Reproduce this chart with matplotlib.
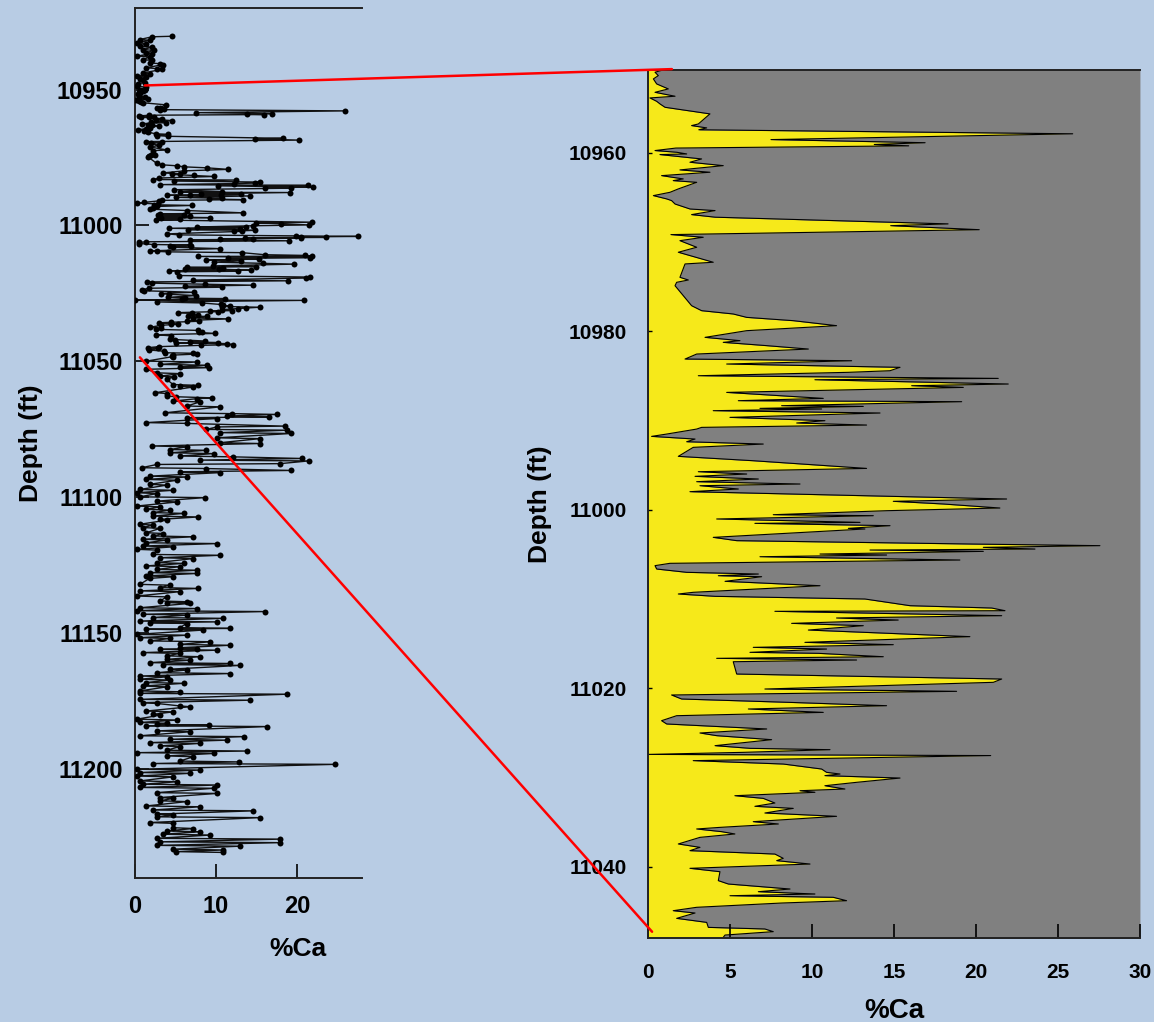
import numpy as np
import matplotlib
matplotlib.use("Agg")
import matplotlib.pyplot as plt
from matplotlib.patches import ConnectionPatch

plt.rcParams['font.family'] = ['Liberation Sans', 'DejaVu Sans']
plt.rcParams['font.weight'] = 'bold'

# %Ca log, upper part of the well (above the zoomed interval)
upper_depth = [10930.4, 10930.6, 10931.6, 10931.9, 10932.8, 10933.1, 10934.1, 10934.4,
               10935.3, 10935.6, 10936.5, 10936.8, 10937.7, 10938.0, 10939.0, 10939.3,
               10940.2, 10940.5, 10940.8, 10942.0, 10942.3, 10942.6, 10943.9, 10944.2,
               10945.1, 10945.4, 10946.3, 10946.6, 10947.5, 10947.8, 10948.8, 10949.1,
               10950.0, 10950.3]
upper_ca = [4.6, 2.1, 0.6, 1.9, 0.2, 1.4, 0.6, 2.1,
            1.0, 2.3, 1.4, 2.1, 0.2, 1.8, 1.0, 2.1,
            1.8, 3.1, 3.5, 1.4, 2.7, 3.3, 1.0, 1.8,
            0.2, 1.4, 0.6, 1.0, 1.2, 0.4, 0.2, 1.4,
            0.6, 1.2]

# zoomed interval 10950 - 11048 ft
zoom_depth = [
    10950.69, 10950.95, 10951.33, 10951.70, 10952.26, 10952.82, 10953.20, 10953.64,
    10953.83, 10954.21, 10954.50, 10954.88, 10955.62, 10956.75, 10956.93, 10957.19,
    10957.40, 10957.85, 10958.50, 10958.85, 10959.05, 10959.20, 10959.45, 10959.73,
    10959.92, 10960.11, 10960.18, 10960.67, 10961.04, 10961.42, 10961.90, 10962.16,
    10962.54, 10962.91, 10963.10, 10963.29, 10964.03, 10964.41, 10964.78, 10965.15,
    10965.34, 10965.72, 10966.28, 10966.46, 10966.91, 10967.20, 10967.95, 10968.15,
    10968.60, 10969.15, 10969.45, 10969.83, 10970.57, 10971.13, 10972.25, 10972.44,
    10973.94, 10974.24, 10974.50, 10974.88, 10977.12, 10977.68, 10978.05, 10978.43,
    10978.80, 10979.36, 10979.92, 10980.67, 10981.04, 10981.23, 10981.60, 10981.98,
    10982.54, 10983.10, 10983.29, 10983.66, 10984.03, 10984.41, 10984.59, 10984.97,
    10985.27, 10985.42, 10985.90, 10986.09, 10986.28, 10986.84, 10987.51, 10987.77,
    10987.88, 10988.33, 10988.41, 10988.63, 10988.70, 10988.89, 10989.15, 10989.64,
    10990.01, 10990.27, 10990.50, 10990.76, 10990.95, 10991.51, 10991.77, 10992.07,
    10992.37, 10992.63, 10993.00, 10993.56, 10994.01, 10994.50, 10995.36, 10995.73,
    10995.99, 10996.25, 10996.55, 10996.85, 10997.11, 10997.30, 10997.67, 10997.97,
    10998.79, 10999.05, 10999.35, 10999.80, 11000.10, 11000.55, 11000.66, 11001.03,
    11001.41, 11001.52, 11001.78, 11002.08, 11002.15, 11003.09, 11003.46, 11003.84,
    11004.02, 11004.21, 11004.40, 11004.51, 11004.66, 11004.96, 11005.07, 11005.26,
    11005.63, 11006.00, 11006.26, 11006.64, 11007.01, 11007.20, 11007.39, 11007.50,
    11008.02, 11008.51, 11009.25, 11009.44, 11009.70, 11010.00, 11010.75, 11011.01,
    11011.31, 11011.38, 11011.87, 11012.13, 11012.36, 11012.73, 11012.99, 11013.48,
    11013.93, 11014.22, 11014.86, 11015.12, 11015.42, 11015.61, 11015.98, 11016.09,
    11016.47, 11016.65, 11016.84, 11017.03, 11018.41, 11018.97, 11019.34, 11020.09,
    11020.35, 11020.76, 11021.21, 11021.59, 11021.96, 11022.33, 11022.71, 11023.08,
    11023.64, 11024.01, 11024.57, 11025.02, 11025.32, 11025.77, 11026.44, 11026.74,
    11026.89, 11027.19, 11027.42, 11027.55, 11028.12, 11028.50, 11029.06, 11029.43,
    11029.62, 11029.80, 11030.07, 11030.36, 11030.55, 11030.93, 11031.30, 11031.49,
    11031.67, 11032.05, 11032.35, 11032.87, 11033.24, 11033.47, 11033.99, 11034.36,
    11034.96, 11035.22, 11035.60, 11035.78, 11036.08, 11036.34, 11036.72, 11037.46,
    11037.84, 11038.21, 11038.59, 11039.07, 11039.33, 11039.71, 11040.19, 11040.57,
    11041.57, 11041.95, 11042.51, 11042.81, 11043.07, 11043.26, 11043.44, 11043.82,
    11044.08, 11044.56, 11044.94, 11045.20, 11045.80, 11046.25, 11046.81, 11046.99,
    11047.29, 11047.67, 11047.93, 11048.20]
zoom_ca = [
    0.93, 0.43, 0.63, 0.33, 0.53, 1.24, 0.43, 1.65,
    0.12, 0.53, 0.73, 1.04, 3.78, 3.07, 2.66, 3.58,
    3.10, 25.9, 7.5, 16.9, 13.8, 15.9, 1.7, 0.43,
    1.75, 2.36, 0.73, 3.27, 2.56, 4.59, 1.95, 3.78,
    0.83, 2.15, 1.54, 2.97, 1.85, 1.34, 0.33, 1.14,
    1.44, 1.65, 2.56, 4.09, 2.66, 4.10, 18.3, 14.8,
    20.2, 1.40, 3.37, 1.95, 2.97, 1.85, 3.98, 2.26,
    1.95, 2.46, 1.75, 1.65, 2.66, 3.27, 5.20, 6.02,
    8.86, 11.50, 6.02, 3.48, 5.61, 4.59, 7.24, 9.78,
    2.97, 2.26, 12.42, 4.80, 15.37, 14.76, 12.22, 3.07,
    21.36, 10.18, 21.97, 16.08, 19.23, 4.80, 10.69, 5.51,
    19.13, 8.15, 13.13, 6.83, 10.59, 3.98, 14.15, 5.00,
    10.79, 9.07, 13.33, 3.27, 2.97, 1.14, 0.22, 2.87,
    2.36, 7.03, 2.76, 2.26, 1.85, 6.42, 13.33, 3.07,
    6.02, 2.87, 6.73, 2.97, 9.27, 3.17, 5.51, 2.56,
    21.87, 14.96, 18.01, 21.46, 14.55, 7.64, 13.74, 4.19,
    12.93, 6.52, 14.76, 12.22, 13.23, 3.98, 5.41, 19.84,
    27.56, 20.45, 23.60, 13.54, 20.45, 10.49, 14.55, 6.83,
    19.02, 1.34, 0.43, 0.53, 2.36, 6.73, 4.29, 6.93,
    4.70, 10.49, 2.76, 1.85, 4.09, 13.23, 15.98, 20.96,
    21.77, 7.74, 21.57, 11.50, 15.26, 8.76, 13.13, 9.78,
    15.77, 19.63, 9.57, 14.96, 6.42, 10.89, 6.22, 10.39,
    14.35, 4.19, 12.72, 5.20, 5.41, 21.57, 21.06, 7.13,
    18.82, 1.44, 2.05, 8.66, 14.55, 6.12, 10.69, 1.75,
    0.83, 1.14, 7.24, 3.17, 4.19, 7.54, 4.09, 6.22,
    11.10, 5.81, 0.00, 20.9, 2.76, 8.25, 10.59, 10.89,
    11.71, 10.79, 15.37, 13.74, 12.72, 10.79, 12.01, 9.27,
    10.18, 5.30, 7.03, 7.74, 6.52, 8.86, 7.13, 11.50,
    6.42, 7.95, 4.39, 2.97, 4.49, 5.30, 3.17, 1.85,
    3.17, 2.56, 7.74, 8.25, 7.85, 9.88, 2.56, 4.39,
    4.29, 4.90, 8.66, 6.73, 10.18, 5.00, 11.30, 12.11,
    8.15, 2.97, 1.54, 2.87, 1.75, 3.58, 3.68, 7.13,
    7.64, 4.70, 4.59, 4.70]

# lower part of the well
lower_depth = [
    11049.9, 11050.2, 11051.1, 11051.4, 11052.0, 11052.3, 11052.9, 11054.2, 11054.5, 11055.4,
    11055.7, 11056.6, 11058.5, 11058.8, 11059.1, 11059.4, 11061.5, 11061.8, 11062.7, 11063.0,
    11063.4, 11063.7, 11064.6, 11064.9, 11066.4, 11066.7, 11068.9, 11069.2, 11069.5, 11070.1,
    11070.4, 11070.7, 11071.0, 11072.5, 11072.8, 11073.8, 11074.1, 11075.0, 11075.3, 11076.2,
    11076.5, 11078.1, 11078.4, 11079.9, 11080.2, 11081.1, 11081.4, 11082.4, 11082.7, 11083.6,
    11083.9, 11084.8, 11085.1, 11085.7, 11086.3, 11086.6, 11087.6, 11087.9, 11089.1, 11089.4,
    11090.1, 11090.6, 11090.9, 11092.2, 11092.5, 11093.4, 11093.7, 11095.2, 11095.5, 11097.1,
    11097.4, 11098.3, 11098.6, 11099.8, 11100.1, 11101.4, 11101.7, 11103.2, 11103.5, 11104.4,
    11104.7, 11105.6, 11105.9, 11106.9, 11107.2, 11108.1, 11108.4, 11109.9, 11110.2, 11111.1,
    11111.4, 11113.0, 11113.3, 11114.2, 11114.5, 11115.4, 11115.7, 11116.7, 11117.0, 11117.9,
    11118.2, 11119.1, 11119.4, 11121.0, 11121.3, 11122.2, 11122.5, 11124.0, 11124.3, 11125.2,
    11125.5, 11126.5, 11126.8, 11127.7, 11128.0, 11128.9, 11129.2, 11129.8, 11132.0, 11132.3,
    11133.2, 11133.5, 11134.4, 11134.7, 11136.3, 11136.6, 11138.1, 11138.4, 11138.7, 11139.0,
    11140.6, 11140.9, 11141.7, 11142.0, 11143.0, 11143.3, 11144.2, 11144.5, 11145.5, 11145.8,
    11146.1, 11146.4, 11147.9, 11148.2, 11148.5, 11148.8, 11150.4, 11150.7, 11151.6, 11151.9,
    11152.8, 11153.1, 11154.1, 11154.4, 11155.3, 11155.6, 11155.9, 11156.2, 11157.1, 11157.4,
    11158.3, 11158.6, 11159.6, 11159.9, 11160.8, 11161.1, 11161.5, 11161.8, 11163.2, 11163.5,
    11164.5, 11164.8, 11165.7, 11166.0, 11166.9, 11167.2, 11168.1, 11168.4, 11169.4, 11169.7,
    11171.2, 11171.5, 11172.1, 11172.4, 11174.3, 11174.6, 11175.5, 11175.8, 11176.7, 11177.0,
    11178.6, 11178.9, 11179.8, 11180.1, 11181.6, 11181.9, 11182.8, 11183.1, 11183.5, 11183.8,
    11184.0, 11184.3, 11185.9, 11186.2, 11187.7, 11188.0, 11189.0, 11189.3, 11190.2, 11190.5,
    11191.4, 11191.7, 11193.0, 11193.3, 11193.9, 11194.2, 11195.1, 11195.4, 11197.0, 11197.3,
    11197.9, 11198.2, 11200.0, 11200.3, 11201.2, 11201.5, 11202.5, 11202.8, 11204.3, 11204.6,
    11205.5, 11205.8, 11206.7, 11207.0, 11208.6, 11208.9, 11210.4, 11210.7, 11211.6, 11211.9,
    11213.5, 11213.8, 11215.0, 11215.3, 11216.5, 11216.8, 11217.5, 11217.8, 11219.6, 11219.9,
    11221.5, 11221.8, 11222.7, 11223.0, 11223.9, 11224.2, 11225.4, 11225.7, 11226.7, 11227.0,
    11228.0, 11228.3, 11229.4, 11229.7, 11230.3, 11230.6]
lower_ca = [
    1.4, 7.6, 3.1, 8.9, 5.5, 9.1, 1.4, 2.7, 5.6, 3.1,
    4.8, 3.9, 4.7, 7.8, 5.6, 7.2, 2.5, 3.9, 3.9, 5.1,
    9.5, 7.6, 4.7, 8.0, 6.4, 10.5, 3.7, 12.0, 17.5, 11.3,
    16.5, 6.4, 10.1, 1.4, 6.4, 18.5, 10.1, 8.8, 18.7, 10.5,
    19.3, 10.1, 15.4, 10.5, 15.4, 2.1, 6.4, 4.3, 8.8, 4.3,
    9.7, 5.5, 12.1, 20.6, 8.0, 21.4, 17.9, 2.7, 0.8, 8.8,
    19.3, 5.5, 10.5, 1.8, 6.4, 1.4, 5.2, 1.8, 3.9, 0.6,
    4.7, 0.2, 2.7, 0.6, 8.6, 2.7, 5.2, 0.2, 3.1, 1.4,
    4.3, 2.2, 6.0, 2.2, 7.8, 3.1, 3.9, 0.6, 2.2, 1.0,
    3.1, 1.4, 3.5, 2.2, 7.2, 1.0, 3.9, 1.4, 10.1, 1.0,
    4.7, 0.2, 2.7, 2.2, 10.5, 3.1, 7.2, 2.7, 6.0, 1.4,
    5.5, 2.7, 7.6, 1.8, 7.6, 1.4, 4.7, 1.8, 0.6, 4.3,
    3.1, 7.8, 0.6, 5.5, 0.2, 3.9, 3.1, 6.4, 4.0, 6.8,
    0.6, 7.6, 0.2, 16.0, 1.0, 6.4, 2.2, 10.9, 0.6, 10.1,
    1.8, 6.4, 5.5, 11.7, 1.4, 8.4, 0.2, 6.4, 0.6, 4.3,
    1.8, 9.3, 5.5, 11.7, 5.5, 7.6, 3.1, 10.1, 1.0, 5.5,
    3.9, 8.0, 3.9, 6.8, 1.8, 11.7, 3.5, 13.0, 4.3, 6.4,
    2.7, 11.7, 0.6, 3.9, 0.6, 4.3, 1.4, 6.0, 1.0, 3.9,
    0.6, 5.5, 0.6, 18.7, 0.6, 14.2, 1.0, 2.7, 5.5, 6.8,
    1.4, 4.7, 2.2, 3.1, 0.2, 5.2, 0.6, 3.9, 2.7, 9.1,
    1.4, 16.3, 2.7, 6.8, 0.6, 13.4, 4.3, 11.3, 1.8, 8.0,
    3.1, 5.5, 3.9, 13.8, 0.2, 9.7, 3.9, 7.2, 5.5, 12.8,
    2.2, 24.7, 0.2, 8.0, 0.6, 6.8, 0.2, 4.7, 0.6, 5.2,
    1.0, 10.1, 0.6, 9.7, 2.7, 10.1, 3.1, 4.7, 3.1, 6.4,
    1.4, 8.0, 2.2, 14.6, 2.7, 4.7, 2.7, 15.4, 1.8, 4.7,
    4.7, 7.2, 3.9, 8.0, 3.5, 9.3, 2.7, 17.9, 3.1, 17.9,
    2.7, 12.9, 4.7, 10.9, 5.1, 10.9]

left_yticks = [10950, 11000, 11050, 11100, 11150, 11200]
left_xticks = [0, 10, 20]
right_yticks = [10960, 10980, 11000, 11020, 11040]
right_xticks = [0, 5, 10, 15, 20, 25, 30]

bg = '#B8CCE4'
yellow = '#F6E91A'
grey = '#808080'

full_depth = np.array(upper_depth + zoom_depth + lower_depth)
full_ca = np.array(upper_ca + zoom_ca + lower_ca)
zd = np.array(zoom_depth)
zc = np.array(zoom_ca)

fig = plt.figure(figsize=(11.54, 10.22), dpi=100, facecolor=bg)
ax1 = fig.add_axes([0.117, 0.1409, 0.1967, 0.8513])
ax2 = fig.add_axes([0.5615, 0.0822, 0.4263, 0.8493])

# whole well: points joined by lines
ax1.set_facecolor(bg)
ax1.plot(full_ca, full_depth, '-', color='#111111', lw=1.0, zorder=2)
ax1.plot(full_ca, full_depth, 'o', color='black', ms=4.3, mew=0, zorder=3)
ax1.set_xlim(0, 28)
ax1.set_ylim(11240, 10920)
ax1.set_xticks(left_xticks)
ax1.set_yticks(left_yticks)
ax1.tick_params(axis='y', direction='in', length=10, width=1.2, pad=9, labelsize=17)
ax1.tick_params(axis='x', direction='in', length=10, width=1.2, pad=12, labelsize=17)
ax1.spines['right'].set_visible(False)
for s in ('left', 'top', 'bottom'):
    ax1.spines[s].set_linewidth(1.4)
    ax1.spines[s].set_color('#222222')
ax1.set_ylabel('Depth (ft)', fontsize=19, fontweight='bold', labelpad=10)
ax1.set_xlabel('%Ca', fontsize=19, fontweight='bold')
ax1.xaxis.set_label_coords(0.718, -0.068)

# zoomed interval: yellow fill up to the curve, grey beyond it
ax2.set_facecolor(grey)
ax2.fill_betweenx(zd, 0, zc, color=yellow, lw=0, zorder=1)
ax2.fill_betweenx(zd, zc, 30, color=grey, lw=0, zorder=1)
ax2.plot(zc, zd, color='black', lw=0.8, zorder=2)
ax2.set_xlim(0, 30)
ax2.set_ylim(11048.0, 10950.7)
ax2.set_xticks(right_xticks)
ax2.set_yticks(right_yticks)
ax2.tick_params(axis='x', direction='in', length=10, width=1.2, pad=18, labelsize=15)
ax2.tick_params(axis='y', direction='in', length=3, width=1.0, pad=15, labelsize=15)
ax2.spines['right'].set_visible(False)
for s in ('left', 'top', 'bottom'):
    ax2.spines[s].set_linewidth(1.4)
    ax2.spines[s].set_color('#222222')
ax2.set_ylabel('Depth (ft)', fontsize=19, fontweight='bold', labelpad=12)
ax2.set_xlabel('%Ca', fontsize=20, fontweight='bold')
ax2.xaxis.set_label_coords(0.5, -0.069)

# red lines tying the zoomed interval to the full log
for a, b in [((1.2, 10948.5), (1.46, 10950.6)), ((0.6, 11048.5), (0.25, 11047.3))]:
    con = ConnectionPatch(xyA=a, coordsA=ax1.transData, xyB=b, coordsB=ax2.transData,
                          color='red', lw=1.8, zorder=10)
    fig.add_artist(con)

fig.savefig('out.png', dpi=100, facecolor=bg)
